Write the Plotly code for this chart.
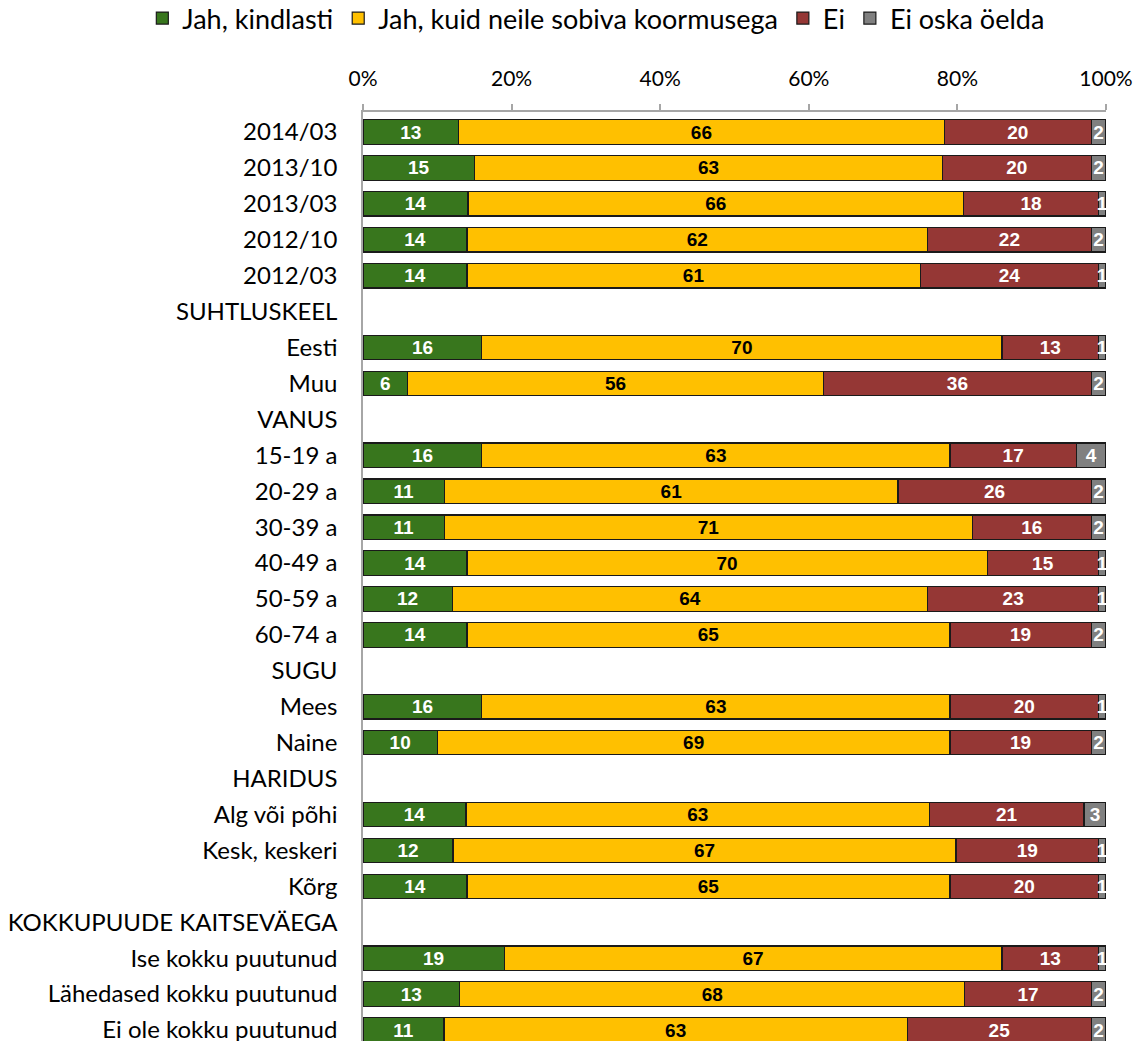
import plotly.graph_objects as go

categories = ["2014/03", "2013/10", "2013/03", "2012/10", "2012/03", "SUHTLUSKEEL", "Eesti", "Muu",
              "VANUS", "15-19 a", "20-29 a", "30-39 a", "40-49 a", "50-59 a", "60-74 a",
              "SUGU", "Mees", "Naine", "HARIDUS", "Alg või põhi", "Kesk, keskeri", "Kõrg",
              "KOKKUPUUDE KAITSEVÄEGA", "Ise kokku puutunud", "Lähedased kokku puutunud",
              "Ei ole kokku puutunud"]

jah_kindlasti = [13, 15, 14, 14, 14, None, 16, 6, None, 16, 11, 11, 14, 12, 14, None, 16, 10,
                 None, 14, 12, 14, None, 19, 13, 11]
jah_kuid = [66, 63, 66, 62, 61, None, 70, 56, None, 63, 61, 71, 70, 64, 65, None, 63, 69,
            None, 63, 67, 65, None, 67, 68, 63]
ei = [20, 20, 18, 22, 24, None, 13, 36, None, 17, 26, 16, 15, 23, 19, None, 20, 19,
      None, 21, 19, 20, None, 13, 17, 25]
ei_oska = [2, 2, 1, 2, 1, None, 1, 2, None, 4, 2, 2, 1, 1, 2, None, 1, 2,
           None, 3, 1, 1, None, 1, 2, 2]

series_names = ["Jah, kindlasti", "Jah, kuid neile sobiva koormusega", "Ei", "Ei oska öelda"]
series_values = [jah_kindlasti, jah_kuid, ei, ei_oska]
colors = ["#38761D", "#FFC000", "#953735", "#808080"]
text_colors = ["white", "black", "white", "white"]

tick_vals = [0, 20, 40, 60, 80, 100]
tick_text = ["0%", "20%", "40%", "60%", "80%", "100%"]

fig = go.Figure()
for name, vals, col, tcol in zip(series_names, series_values, colors, text_colors):
    fig.add_trace(go.Bar(
        y=categories, x=vals, name=name, orientation="h",
        marker=dict(color=col, line=dict(color="#1a1a1a", width=1.2)),
        text=["" if v is None else str(v) for v in vals],
        texttemplate="%{text}",
        textposition="inside", insidetextanchor="middle", textangle=0,
        textfont=dict(family="Liberation Sans", size=19, color=tcol, weight="bold"),
        hoverinfo="skip",
    ))

fig.update_layout(
    barmode="stack", barnorm="percent", bargap=0.32,
    width=1142, height=1041,
    margin=dict(l=363, r=36, t=112, b=0, autoexpand=False),
    plot_bgcolor="white", paper_bgcolor="white",
    font=dict(family="Lato", size=22, color="black"),
    uniformtext=dict(minsize=19, mode="show"),
    legend=dict(orientation="h", xref="paper", x=-0.297, xanchor="left",
                yref="paper", y=1.127, yanchor="top",
                font=dict(family="Lato", size=27), traceorder="normal"),
    xaxis=dict(side="top", range=[0, 100], tickvals=tick_vals, ticktext=tick_text,
               showgrid=False, zeroline=False, showline=True, linecolor="#a6a6a6",
               linewidth=1.5, ticks="outside", ticklen=6, tickcolor="#a6a6a6",
               tickwidth=1.5, ticklabelstandoff=10, automargin=False,
               tickfont=dict(size=21)),
    yaxis=dict(range=[25.306, -0.557], showgrid=False, zeroline=False, showline=True,
               linecolor="#a6a6a6", linewidth=1.5, ticks="", ticklabelstandoff=19,
               automargin=False, tickfont=dict(size=24)),
)

fig.write_html("out.html", config={"displayModeBar": False},
               post_script="document.body.style.margin='0';")
